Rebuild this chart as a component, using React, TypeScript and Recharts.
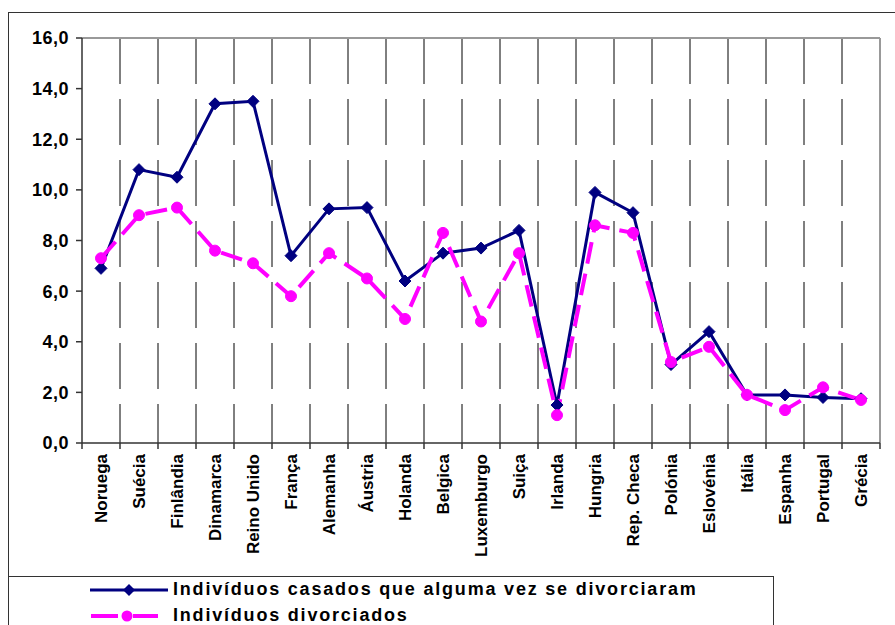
import { CartesianGrid, Line, LineChart, XAxis, YAxis } from "recharts";

const countries = [
  "Noruega",
  "Suécia",
  "Finlândia",
  "Dinamarca",
  "Reino Unido",
  "França",
  "Alemanha",
  "Áustria",
  "Holanda",
  "Belgica",
  "Luxemburgo",
  "Suiça",
  "Irlanda",
  "Hungria",
  "Rep. Checa",
  "Polónia",
  "Eslovénia",
  "Itália",
  "Espanha",
  "Portugal",
  "Grécia",
];

const everDivorced = [
  6.9, 10.8, 10.5, 13.4, 13.5, 7.4, 9.25, 9.3, 6.4, 7.5, 7.7, 8.4, 1.5, 9.9, 9.1, 3.1, 4.4, 1.9, 1.9, 1.8, 1.75,
];
const divorced = [
  7.3, 9.0, 9.3, 7.6, 7.1, 5.8, 7.5, 6.5, 4.9, 8.3, 4.8, 7.5, 1.1, 8.6, 8.3, 3.2, 3.8, 1.9, 1.3, 2.2, 1.7,
];
const yTicks = [0, 2, 4, 6, 8, 10, 12, 14, 16];

const seriesNames = ["Indivíduos casados que alguma vez se divorciaram", "Indivíduos divorciados"];

const data = countries.map((name, i) => ({ name, casados: everDivorced[i], divorciados: divorced[i] }));

const FONT = "Arial, 'Liberation Sans', sans-serif";
const NAVY = "#000080";
const PINK = "#FF00FF";

function Diamond({ cx, cy }: { cx?: number; cy?: number }) {
  if (cx == null || cy == null) return null;
  const r = 6;
  return (
    <polygon points={`${cx},${cy - r} ${cx + r},${cy} ${cx},${cy + r} ${cx - r},${cy}`} fill={NAVY} stroke={NAVY} strokeWidth={1} />
  );
}

function Dot({ cx, cy }: { cx?: number; cy?: number }) {
  if (cx == null || cy == null) return null;
  return <circle cx={cx} cy={cy} r={5.5} fill={PINK} stroke={PINK} strokeWidth={1} />;
}

function CountryTick(props: any) {
  const { x, y, payload, index } = props;
  const half = payload?.offset || 19;
  return (
    <g>
      <line x1={x - half} x2={x - half} y1={y} y2={y + 6} stroke="#333" strokeWidth={1.5} />
      {index === countries.length - 1 && (
        <line x1={x + half} x2={x + half} y1={y} y2={y + 6} stroke="#333" strokeWidth={1.5} />
      )}
      <text
        x={x}
        y={y + 11}
        transform={`rotate(-90, ${x}, ${y + 11})`}
        textAnchor="end"
        dy="0.36em"
        fontFamily={FONT}
        fontWeight="bold"
        fontSize={17}
        fill="#000"
      >
        {payload.value}
      </text>
    </g>
  );
}

export default function App() {
  return (
    <div style={{ position: "fixed", inset: 0, overflow: "hidden", background: "#fff" }}>
      <div
        style={{
          position: "absolute",
          left: 8,
          top: 12,
          width: 950,
          height: 700,
          borderTop: "1.5px solid #333",
          borderLeft: "1.5px solid #333",
        }}
      />
      <div style={{ position: "absolute", left: 0, top: 0 }}>
        <LineChart width={895} height={575} data={data} margin={{ top: 38, right: 15, bottom: 0, left: 0 }}>
          <CartesianGrid
            horizontal={false}
            stroke="#000"
            strokeWidth={1}
            strokeDasharray="46 15"
            verticalCoordinatesGenerator={({ offset }: any) =>
              countries.slice(1).map((_, i) => offset.left + ((i + 1) * offset.width) / countries.length)
            }
          />
          <CartesianGrid
            stroke="#999"
            strokeWidth={2}
            horizontalCoordinatesGenerator={({ offset }: any) => [offset.top]}
            verticalCoordinatesGenerator={({ offset }: any) => [offset.left + offset.width]}
          />
          <XAxis
            dataKey="name"
            scale="band"
            interval={0}
            height={132}
            tickSize={0}
            tickMargin={0}
            axisLine={{ stroke: "#333", strokeWidth: 1.5 }}
            tickLine={false}
            tick={<CountryTick />}
          />
          <YAxis
            domain={[0, 16]}
            ticks={yTicks}
            width={82}
            tickSize={6}
            tickMargin={7}
            interval={0}
            axisLine={{ stroke: "#333", strokeWidth: 1.5 }}
            tickLine={{ stroke: "#333", strokeWidth: 1.5 }}
            tickFormatter={(v: number) => v.toFixed(1).replace(".", ",")}
            tick={{ fill: "#000", fontFamily: FONT, fontWeight: "bold", fontSize: 18, letterSpacing: 0.5 }}
          />
          <Line
            type="linear"
            dataKey="casados"
            name={seriesNames[0]}
            stroke={NAVY}
            strokeWidth={3}
            dot={<Diamond />}
            activeDot={false}
            isAnimationActive={false}
          />
          <Line
            type="linear"
            dataKey="divorciados"
            name={seriesNames[1]}
            stroke={PINK}
            strokeWidth={4}
            strokeDasharray="22 10"
            dot={<Dot />}
            activeDot={false}
            isAnimationActive={false}
          />
        </LineChart>
      </div>
      <div
        style={{
          position: "absolute",
          left: 8,
          top: 576,
          width: 766,
          height: 100,
          border: "1.5px solid #333",
          boxSizing: "border-box",
        }}
      >
        {seriesNames.map((name, i) => (
          <div
            key={name}
            style={{ position: "absolute", left: 81, top: i === 0 ? 2 : 28, display: "flex", alignItems: "center" }}
          >
            <svg width={80} height={20}>
              {i === 0 ? (
                <>
                  <line x1={0} x2={78} y1={10} y2={10} stroke={NAVY} strokeWidth={3} />
                  <polygon points="39,4 45,10 39,16 33,10" fill={NAVY} />
                </>
              ) : (
                <>
                  <line x1={1} x2={28} y1={10} y2={10} stroke={PINK} strokeWidth={4} />
                  <line x1={43} x2={68} y1={10} y2={10} stroke={PINK} strokeWidth={4} />
                  <circle cx={37} cy={10} r={5.5} fill={PINK} />
                </>
              )}
            </svg>
            <span
              style={{
                marginLeft: 3,
                fontFamily: FONT,
                fontWeight: "bold",
                fontSize: 18,
                letterSpacing: 1.8,
                color: "#000",
                whiteSpace: "nowrap",
              }}
            >
              {name}
            </span>
          </div>
        ))}
      </div>
    </div>
  );
}
